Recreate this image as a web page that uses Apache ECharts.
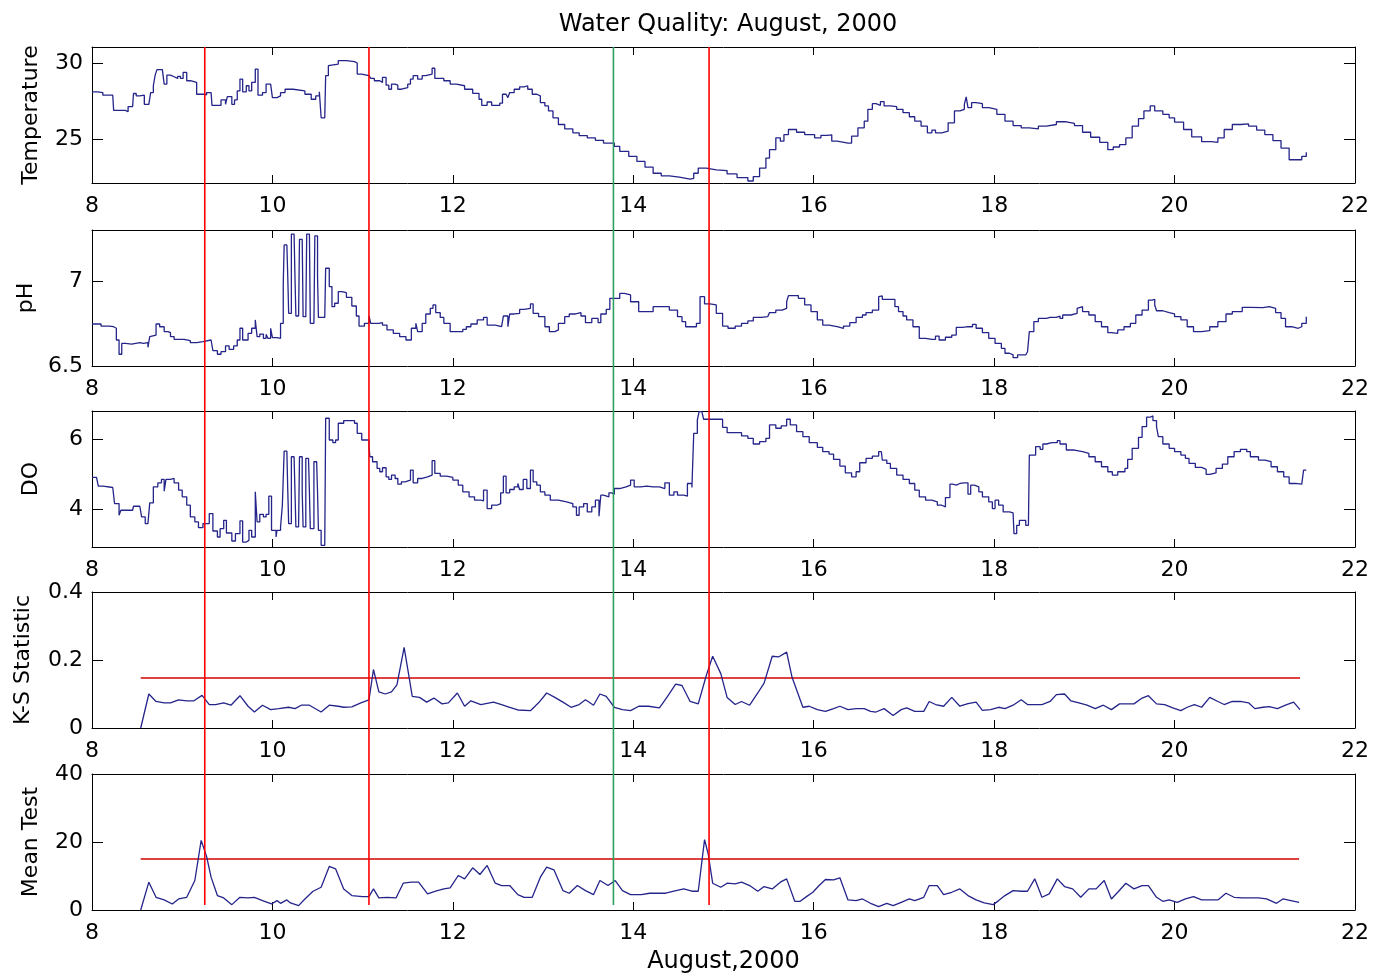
<!DOCTYPE html>
<html>
<head>
<meta charset="utf-8">
<title>Water Quality: August, 2000</title>
<script src="https://cdn.jsdelivr.net/npm/echarts/dist/echarts.min.js"></script>
<style>
  html, body { margin: 0; padding: 0; background: #fff; }
  #chart { width: 1376px; height: 978px; }
</style>
</head>
<body>
<div id="chart"></div>
<script>
// days are day-of-month, August 2000
const tempDays = [
  8.00, 8.06, 8.12, 8.23, 8.24, 8.37, 8.40, 8.45, 8.46, 8.49,
  8.53, 8.55, 8.58, 8.63, 8.65, 8.68, 8.70, 8.72, 8.78, 8.80,
  8.83, 8.87, 8.91, 8.95, 8.98, 9.01, 9.05, 9.09, 9.16, 9.24,
  9.27, 9.32, 9.33, 9.40, 9.43, 9.48, 9.50, 9.55, 9.58, 9.61,
  9.64, 9.67, 9.71, 9.74, 9.77, 9.81, 9.84, 9.89, 9.93, 9.98,
  10.00, 10.05, 10.09, 10.14, 10.23, 10.36, 10.43, 10.48, 10.52, 10.54,
  10.58, 10.59, 10.62, 10.64, 10.73, 10.82, 10.91, 10.94, 10.99, 11.07,
  11.09, 11.13, 11.19, 11.22, 11.26, 11.29, 11.32, 11.36, 11.39, 11.43,
  11.50, 11.53, 11.56, 11.61, 11.66, 11.70, 11.77, 11.80, 11.90, 11.97,
  12.04, 12.13, 12.22, 12.29, 12.32, 12.38, 12.43, 12.52, 12.55, 12.59,
  12.61, 12.63, 12.68, 12.74, 12.79, 12.83, 12.88, 12.93, 12.97, 13.02,
  13.06, 13.11, 13.17, 13.24, 13.33, 13.40, 13.49, 13.58, 13.67, 13.79,
  13.85, 13.95, 14.04, 14.13, 14.22, 14.31, 14.40, 14.51, 14.63, 14.67,
  14.72, 14.81, 14.92, 15.04, 15.15, 15.27, 15.33, 15.40, 15.47, 15.51,
  15.58, 15.63, 15.67, 15.72, 15.81, 15.90, 16.01, 16.08, 16.15, 16.20,
  16.26, 16.38, 16.42, 16.49, 16.56, 16.60, 16.65, 16.69, 16.74, 16.78,
  16.85, 16.92, 16.99, 17.06, 17.12, 17.19, 17.26, 17.31, 17.35, 17.42,
  17.49, 17.56, 17.62, 17.67, 17.69, 17.71, 17.75, 17.80, 17.87, 17.94,
  18.03, 18.12, 18.21, 18.30, 18.39, 18.49, 18.58, 18.69, 18.80, 18.89,
  18.98, 19.07, 19.17, 19.26, 19.32, 19.39, 19.46, 19.53, 19.60, 19.66,
  19.73, 19.78, 19.87, 19.94, 20.00, 20.10, 20.19, 20.30, 20.41, 20.48,
  20.55, 20.64, 20.73, 20.82, 20.91, 21.00, 21.09, 21.18, 21.27, 21.34,
  21.41, 21.46
];
const tempValues = [
  28.10, 28.05, 27.88, 27.88, 26.88, 26.79, 27.12, 27.17, 27.99, 27.83,
  27.72, 27.88, 27.28, 27.28, 28.05, 28.50, 29.20, 29.56, 29.56, 28.61,
  29.20, 29.09, 28.98, 29.12, 28.98, 29.38, 28.83, 28.72, 27.94, 27.90,
  28.05, 28.05, 27.21, 27.21, 27.57, 27.28, 27.79, 27.28, 27.57, 28.16,
  28.94, 28.10, 28.50, 28.16, 28.72, 29.60, 27.88, 28.05, 28.61, 28.61,
  27.72, 27.83, 28.05, 28.27, 28.16, 27.94, 27.61, 27.83, 28.10, 26.39,
  26.39, 29.16, 29.82, 29.93, 30.15, 30.09, 30.00, 29.27, 29.16, 29.16,
  28.98, 28.83, 28.72, 29.05, 28.54, 28.27, 28.61, 28.54, 28.27, 28.38,
  28.61, 28.94, 29.16, 28.94, 29.16, 29.27, 29.65, 28.98, 28.83, 28.61,
  28.50, 28.27, 28.00, 27.61, 27.21, 27.43, 27.21, 27.35, 27.94, 28.05,
  27.72, 28.05, 28.27, 28.43, 28.50, 28.27, 27.94, 27.83, 27.39, 27.17,
  26.84, 26.39, 25.95, 25.66, 25.40, 25.22, 25.07, 24.91, 24.73, 24.51,
  24.18, 23.85, 23.52, 23.14, 22.74, 22.57, 22.48, 22.35, 22.41, 22.74,
  23.08, 22.96, 22.92, 22.70, 22.46, 22.23, 22.52, 23.08, 23.74, 24.29,
  25.07, 24.85, 25.29, 25.62, 25.44, 25.29, 25.07, 25.24, 25.27, 24.85,
  24.73, 24.73, 25.18, 25.73, 26.17, 26.95, 27.32, 27.21, 27.46, 27.17,
  27.12, 26.95, 26.73, 26.46, 26.17, 25.84, 25.40, 25.58, 25.40, 25.51,
  26.06, 26.84, 26.95, 27.28, 27.77, 27.06, 27.39, 27.32, 27.06, 26.95,
  26.62, 26.17, 25.88, 25.73, 25.66, 25.84, 25.95, 26.13, 26.02, 25.88,
  25.44, 25.11, 24.78, 24.29, 24.47, 24.62, 25.07, 25.84, 26.33, 26.84,
  27.17, 26.84, 26.62, 26.39, 26.11, 25.62, 25.13, 24.82, 24.78, 25.07,
  25.62, 25.95, 25.99, 25.84, 25.58, 25.29, 24.89, 24.40, 23.63, 23.63,
  23.85, 24.12
];

const phDays = [
  8.00, 8.06, 8.10, 8.19, 8.24, 8.27, 8.30, 8.33, 8.37, 8.44,
  8.46, 8.53, 8.57, 8.62, 8.64, 8.66, 8.71, 8.75, 8.80, 8.84,
  8.87, 8.91, 8.98, 9.02, 9.09, 9.16, 9.23, 9.25, 9.32, 9.34,
  9.39, 9.43, 9.48, 9.52, 9.57, 9.61, 9.64, 9.67, 9.73, 9.77,
  9.81, 9.83, 9.86, 9.90, 9.93, 9.95, 9.98, 10.00, 10.05, 10.09,
  10.12, 10.13, 10.16, 10.17, 10.18, 10.20, 10.21, 10.24, 10.25, 10.26,
  10.29, 10.30, 10.33, 10.34, 10.37, 10.38, 10.41, 10.42, 10.46, 10.47,
  10.49, 10.50, 10.51, 10.58, 10.59, 10.63, 10.66, 10.69, 10.73, 10.77,
  10.82, 10.88, 10.93, 10.96, 11.02, 11.07, 11.09, 11.18, 11.22, 11.27,
  11.34, 11.41, 11.48, 11.54, 11.59, 11.61, 11.66, 11.70, 11.75, 11.78,
  11.81, 11.86, 11.90, 11.97, 12.06, 12.11, 12.15, 12.20, 12.27, 12.34,
  12.38, 12.47, 12.54, 12.56, 12.61, 12.63, 12.68, 12.74, 12.79, 12.86,
  12.89, 12.95, 13.02, 13.07, 13.13, 13.17, 13.24, 13.29, 13.36, 13.42,
  13.47, 13.54, 13.61, 13.64, 13.70, 13.74, 13.81, 13.85, 13.90, 13.97,
  14.06, 14.13, 14.22, 14.31, 14.40, 14.49, 14.54, 14.58, 14.65, 14.70,
  14.74, 14.79, 14.85, 14.92, 14.99, 15.05, 15.13, 15.20, 15.27, 15.33,
  15.42, 15.49, 15.51, 15.58, 15.65, 15.70, 15.72, 15.79, 15.83, 15.90,
  15.97, 16.04, 16.10, 16.17, 16.26, 16.33, 16.40, 16.47, 16.54, 16.58,
  16.65, 16.72, 16.74, 16.76, 16.81, 16.85, 16.90, 16.94, 16.99, 17.03,
  17.10, 17.17, 17.24, 17.31, 17.35, 17.39, 17.46, 17.53, 17.58, 17.65,
  17.71, 17.76, 17.80, 17.87, 17.94, 18.01, 18.08, 18.12, 18.17, 18.21,
  18.26, 18.30, 18.35, 18.37, 18.39, 18.44, 18.49, 18.53, 18.58, 18.62,
  18.69, 18.73, 18.76, 18.85, 18.92, 18.94, 18.98, 19.05, 19.12, 19.19,
  19.26, 19.30, 19.37, 19.44, 19.51, 19.57, 19.64, 19.71, 19.75, 19.78,
  19.80, 19.87, 19.94, 20.00, 20.07, 20.14, 20.21, 20.30, 20.39, 20.48,
  20.57, 20.64, 20.75, 20.84, 20.98, 21.05, 21.12, 21.18, 21.23, 21.30,
  21.37, 21.41, 21.46
];
const phValues = [
  6.747, 6.747, 6.735, 6.731, 6.722, 6.653, 6.569, 6.633, 6.629, 6.624,
  6.637, 6.633, 6.637, 6.610, 6.673, 6.682, 6.747, 6.731, 6.702, 6.696,
  6.673, 6.657, 6.657, 6.649, 6.637, 6.643, 6.643, 6.653, 6.643, 6.590,
  6.569, 6.584, 6.618, 6.598, 6.618, 6.653, 6.722, 6.653, 6.692, 6.722,
  6.771, 6.673, 6.688, 6.663, 6.686, 6.663, 6.722, 6.667, 6.663, 6.751,
  6.986, 7.212, 7.212, 7.025, 6.810, 6.810, 7.276, 7.276, 7.025, 6.794,
  6.794, 7.245, 7.245, 6.790, 6.790, 7.276, 7.276, 6.751, 6.751, 7.265,
  7.265, 7.025, 6.786, 6.786, 7.075, 6.967, 6.849, 6.869, 6.937, 6.931,
  6.904, 6.853, 6.794, 6.735, 6.751, 6.794, 6.751, 6.755, 6.741, 6.712,
  6.692, 6.673, 6.653, 6.722, 6.751, 6.702, 6.751, 6.806, 6.839, 6.859,
  6.814, 6.786, 6.751, 6.702, 6.702, 6.716, 6.731, 6.747, 6.771, 6.786,
  6.741, 6.731, 6.731, 6.794, 6.731, 6.806, 6.810, 6.833, 6.839, 6.865,
  6.810, 6.790, 6.731, 6.702, 6.712, 6.751, 6.790, 6.806, 6.814, 6.794,
  6.755, 6.780, 6.755, 6.806, 6.833, 6.898, 6.898, 6.927, 6.918, 6.878,
  6.820, 6.820, 6.849, 6.849, 6.829, 6.790, 6.761, 6.731, 6.731, 6.751,
  6.908, 6.865, 6.859, 6.810, 6.735, 6.722, 6.735, 6.751, 6.765, 6.786,
  6.790, 6.794, 6.814, 6.829, 6.839, 6.878, 6.914, 6.914, 6.898, 6.859,
  6.820, 6.771, 6.741, 6.731, 6.722, 6.735, 6.755, 6.786, 6.800, 6.814,
  6.829, 6.908, 6.912, 6.892, 6.892, 6.892, 6.849, 6.820, 6.794, 6.771,
  6.731, 6.663, 6.657, 6.657, 6.676, 6.653, 6.669, 6.682, 6.727, 6.731,
  6.731, 6.745, 6.722, 6.696, 6.663, 6.633, 6.604, 6.575, 6.565, 6.549,
  6.565, 6.565, 6.575, 6.584, 6.702, 6.761, 6.780, 6.780, 6.786, 6.786,
  6.794, 6.780, 6.800, 6.810, 6.839, 6.849, 6.820, 6.800, 6.761, 6.731,
  6.696, 6.692, 6.712, 6.731, 6.751, 6.800, 6.829, 6.888, 6.892, 6.859,
  6.825, 6.814, 6.806, 6.790, 6.771, 6.731, 6.702, 6.708, 6.731, 6.761,
  6.806, 6.820, 6.845, 6.843, 6.849, 6.839, 6.814, 6.780, 6.731, 6.722,
  6.731, 6.751, 6.790
];

const doDays = [
  8.00, 8.05, 8.07, 8.12, 8.23, 8.25, 8.30, 8.32, 8.39, 8.45,
  8.46, 8.53, 8.55, 8.59, 8.62, 8.64, 8.68, 8.73, 8.77, 8.80,
  8.82, 8.87, 8.91, 8.96, 9.00, 9.05, 9.09, 9.14, 9.18, 9.23,
  9.27, 9.30, 9.34, 9.39, 9.42, 9.46, 9.49, 9.55, 9.59, 9.64,
  9.67, 9.71, 9.74, 9.77, 9.81, 9.83, 9.86, 9.90, 9.93, 9.96,
  9.99, 10.04, 10.05, 10.09, 10.11, 10.13, 10.16, 10.17, 10.18, 10.20,
  10.21, 10.24, 10.25, 10.26, 10.29, 10.30, 10.32, 10.33, 10.34, 10.36,
  10.37, 10.40, 10.41, 10.42, 10.44, 10.46, 10.49, 10.50, 10.51, 10.53,
  10.54, 10.58, 10.59, 10.61, 10.63, 10.67, 10.70, 10.73, 10.79, 10.86,
  10.91, 10.94, 10.99, 11.07, 11.08, 11.11, 11.16, 11.19, 11.22, 11.26,
  11.29, 11.32, 11.36, 11.39, 11.43, 11.47, 11.53, 11.56, 11.61, 11.66,
  11.72, 11.77, 11.80, 11.86, 11.93, 12.00, 12.06, 12.11, 12.18, 12.24,
  12.31, 12.34, 12.38, 12.43, 12.49, 12.53, 12.56, 12.59, 12.63, 12.68,
  12.72, 12.74, 12.78, 12.82, 12.86, 12.89, 12.93, 12.97, 13.02, 13.08,
  13.17, 13.26, 13.33, 13.37, 13.40, 13.45, 13.49, 13.54, 13.58, 13.62,
  13.64, 13.67, 13.73, 13.76, 13.79, 13.85, 13.92, 13.97, 14.01, 14.08,
  14.15, 14.22, 14.29, 14.35, 14.40, 14.45, 14.49, 14.56, 14.60, 14.65,
  14.67, 14.71, 14.73, 14.76, 14.78, 14.90, 14.99, 15.04, 15.13, 15.20,
  15.27, 15.33, 15.40, 15.47, 15.51, 15.58, 15.64, 15.70, 15.74, 15.81,
  15.88, 15.95, 16.04, 16.10, 16.17, 16.22, 16.29, 16.35, 16.42, 16.47,
  16.51, 16.58, 16.65, 16.72, 16.75, 16.76, 16.81, 16.85, 16.92, 16.99,
  17.06, 17.12, 17.17, 17.24, 17.31, 17.37, 17.42, 17.46, 17.51, 17.54,
  17.58, 17.62, 17.67, 17.71, 17.74, 17.78, 17.83, 17.87, 17.94, 17.98,
  18.01, 18.05, 18.10, 18.17, 18.21, 18.22, 18.25, 18.28, 18.31, 18.35,
  18.38, 18.39, 18.43, 18.46, 18.51, 18.54, 18.58, 18.64, 18.70, 18.73,
  18.80, 18.89, 18.98, 19.05, 19.12, 19.19, 19.26, 19.31, 19.37, 19.45,
  19.48, 19.53, 19.60, 19.64, 19.69, 19.73, 19.76, 19.80, 19.82, 19.87,
  19.94, 20.00, 20.07, 20.12, 20.16, 20.23, 20.30, 20.35, 20.39, 20.46,
  20.53, 20.59, 20.66, 20.73, 20.80, 20.84, 20.93, 21.00, 21.07, 21.14,
  21.21, 21.27, 21.34, 21.41, 21.43, 21.46
];
const doValues = [
  4.909, 4.909, 4.660, 4.622, 4.622, 4.163, 3.828, 3.971, 3.971, 3.952,
  4.086, 4.086, 3.780, 3.589, 3.636, 4.182, 4.641, 4.756, 4.852, 4.517,
  4.852, 4.880, 4.756, 4.545, 4.354, 4.115, 3.780, 3.636, 3.474, 3.589,
  3.589, 3.876, 3.378, 3.206, 3.445, 3.684, 3.321, 3.091, 3.301, 3.665,
  3.062, 3.110, 3.397, 3.206, 4.498, 3.636, 3.856, 3.780, 3.856, 4.373,
  3.397, 3.206, 3.397, 3.493, 4.115, 5.665, 5.665, 4.545, 3.589, 3.589,
  5.502, 5.502, 4.498, 3.493, 3.493, 5.502, 5.502, 4.498, 3.493, 3.493,
  5.455, 5.455, 4.498, 3.445, 3.445, 5.359, 5.359, 4.498, 3.397, 3.397,
  2.967, 2.967, 6.603, 6.603, 5.981, 5.904, 5.981, 6.459, 6.536, 6.536,
  6.459, 6.172, 5.981, 5.837, 5.502, 5.359, 5.167, 5.072, 5.187, 4.928,
  4.852, 4.976, 4.880, 4.718, 4.785, 4.833, 5.120, 4.756, 4.880, 4.928,
  4.976, 5.388, 5.024, 4.947, 4.909, 4.833, 4.689, 4.498, 4.354, 4.258,
  4.239, 4.545, 4.019, 4.115, 4.163, 4.469, 4.947, 4.469, 4.565, 4.641,
  4.737, 4.565, 4.852, 4.593, 5.120, 4.785, 4.689, 4.498, 4.402, 4.258,
  4.211, 4.163, 4.067, 3.828, 4.067, 4.163, 3.923, 4.067, 4.258, 3.799,
  4.402, 4.354, 4.469, 4.431, 4.593, 4.641, 4.689, 4.833, 4.641, 4.660,
  4.641, 4.641, 4.593, 4.756, 4.402, 4.498, 4.402, 4.373, 4.737, 4.622,
  6.172, 6.555, 6.794, 6.794, 6.574, 6.574, 6.344, 6.191, 6.191, 6.096,
  6.029, 5.866, 5.933, 6.029, 6.411, 6.316, 6.383, 6.574, 6.411, 6.220,
  6.077, 5.904, 5.770, 5.646, 5.579, 5.426, 5.234, 5.043, 4.928, 5.072,
  5.330, 5.455, 5.522, 5.646, 5.694, 5.407, 5.311, 5.167, 4.976, 4.852,
  4.737, 4.545, 4.354, 4.258, 4.211, 4.115, 4.067, 4.335, 4.718, 4.689,
  4.737, 4.756, 4.756, 4.431, 4.689, 4.641, 4.498, 4.354, 4.211, 4.019,
  4.258, 4.115, 3.923, 3.895, 3.876, 3.301, 3.541, 3.684, 3.684, 3.541,
  3.541, 5.550, 5.550, 5.789, 5.713, 5.866, 5.904, 5.904, 5.962, 5.866,
  5.694, 5.646, 5.598, 5.502, 5.359, 5.215, 5.072, 4.976, 5.072, 5.167,
  5.426, 5.742, 6.057, 6.364, 6.632, 6.670, 6.536, 6.364, 6.077, 5.866,
  5.742, 5.646, 5.550, 5.455, 5.311, 5.196, 5.139, 4.995, 5.043, 5.167,
  5.292, 5.502, 5.646, 5.713, 5.646, 5.502, 5.407, 5.359, 5.215, 5.072,
  4.928, 4.737, 4.718, 4.756, 5.120, 5.120
];

const ksDays = [
  8.54, 8.63, 8.71, 8.80, 8.87, 8.96, 9.05, 9.13, 9.22, 9.30,
  9.37, 9.46, 9.54, 9.64, 9.73, 9.80, 9.89, 9.98, 10.07, 10.18,
  10.25, 10.32, 10.41, 10.54, 10.63, 10.73, 10.79, 10.88, 10.98, 11.04,
  11.07, 11.12, 11.18, 11.25, 11.32, 11.38, 11.46, 11.55, 11.63, 11.71,
  11.79, 11.88, 11.95, 12.05, 12.13, 12.20, 12.31, 12.45, 12.54, 12.63,
  12.72, 12.86, 12.95, 13.04, 13.13, 13.22, 13.31, 13.40, 13.47, 13.56,
  13.63, 13.70, 13.79, 13.88, 13.97, 14.06, 14.17, 14.29, 14.38, 14.47,
  14.54, 14.63, 14.72, 14.81, 14.88, 14.97, 15.04, 15.13, 15.20, 15.29,
  15.38, 15.45, 15.54, 15.61, 15.70, 15.76, 15.88, 15.95, 16.04, 16.13,
  16.22, 16.29, 16.38, 16.47, 16.56, 16.63, 16.69, 16.78, 16.88, 16.97,
  17.03, 17.12, 17.22, 17.28, 17.35, 17.44, 17.53, 17.62, 17.71, 17.80,
  17.87, 17.96, 18.05, 18.12, 18.21, 18.30, 18.37, 18.46, 18.53, 18.62,
  18.69, 18.78, 18.85, 18.94, 19.03, 19.12, 19.21, 19.30, 19.39, 19.48,
  19.55, 19.64, 19.71, 19.80, 19.89, 19.98, 20.07, 20.14, 20.22, 20.30,
  20.39, 20.48, 20.55, 20.64, 20.73, 20.82, 20.89, 20.98, 21.05, 21.14,
  21.23, 21.32, 21.39
];
const ksValues = [
  0.000, 0.100, 0.078, 0.074, 0.074, 0.083, 0.080, 0.080, 0.096, 0.069,
  0.069, 0.074, 0.067, 0.095, 0.064, 0.047, 0.067, 0.054, 0.057, 0.061,
  0.057, 0.067, 0.067, 0.047, 0.067, 0.064, 0.061, 0.062, 0.074, 0.080,
  0.083, 0.172, 0.106, 0.100, 0.106, 0.127, 0.237, 0.093, 0.090, 0.076,
  0.088, 0.071, 0.074, 0.103, 0.064, 0.080, 0.069, 0.076, 0.069, 0.061,
  0.053, 0.051, 0.074, 0.103, 0.090, 0.076, 0.061, 0.069, 0.083, 0.067,
  0.100, 0.093, 0.061, 0.054, 0.051, 0.064, 0.064, 0.059, 0.093, 0.129,
  0.125, 0.078, 0.071, 0.155, 0.211, 0.160, 0.090, 0.069, 0.078, 0.067,
  0.103, 0.132, 0.211, 0.209, 0.223, 0.149, 0.061, 0.064, 0.054, 0.049,
  0.057, 0.064, 0.054, 0.057, 0.057, 0.049, 0.047, 0.057, 0.037, 0.054,
  0.059, 0.049, 0.049, 0.078, 0.069, 0.064, 0.090, 0.064, 0.072, 0.076,
  0.052, 0.054, 0.061, 0.057, 0.067, 0.083, 0.069, 0.069, 0.069, 0.078,
  0.098, 0.100, 0.080, 0.074, 0.067, 0.057, 0.067, 0.054, 0.071, 0.071,
  0.071, 0.088, 0.095, 0.071, 0.069, 0.059, 0.051, 0.061, 0.069, 0.061,
  0.090, 0.078, 0.069, 0.078, 0.078, 0.074, 0.057, 0.061, 0.063, 0.057,
  0.067, 0.076, 0.054
];
const ksThreshold = 0.147;

const meanDays = [
  8.54, 8.63, 8.71, 8.80, 8.89, 8.96, 9.05, 9.14, 9.21, 9.27,
  9.32, 9.39, 9.46, 9.55, 9.64, 9.73, 9.80, 9.89, 9.99, 10.05,
  10.09, 10.16, 10.20, 10.29, 10.36, 10.45, 10.54, 10.63, 10.70, 10.79,
  10.88, 11.00, 11.07, 11.12, 11.18, 11.27, 11.37, 11.45, 11.54, 11.62,
  11.72, 11.81, 11.90, 11.97, 12.06, 12.13, 12.22, 12.30, 12.38, 12.47,
  12.54, 12.63, 12.72, 12.79, 12.88, 12.97, 13.04, 13.12, 13.22, 13.29,
  13.38, 13.47, 13.56, 13.63, 13.72, 13.80, 13.88, 13.97, 14.09, 14.18,
  14.27, 14.36, 14.45, 14.56, 14.65, 14.72, 14.79, 14.83, 14.88, 14.97,
  15.04, 15.13, 15.20, 15.29, 15.38, 15.45, 15.54, 15.63, 15.70, 15.79,
  15.85, 15.92, 15.99, 16.06, 16.13, 16.22, 16.29, 16.38, 16.47, 16.54,
  16.63, 16.72, 16.81, 16.88, 16.97, 17.06, 17.12, 17.22, 17.28, 17.37,
  17.44, 17.53, 17.62, 17.71, 17.80, 17.89, 17.99, 18.05, 18.12, 18.21,
  18.30, 18.37, 18.45, 18.53, 18.61, 18.70, 18.78, 18.87, 18.96, 19.05,
  19.13, 19.22, 19.30, 19.37, 19.46, 19.55, 19.64, 19.71, 19.80, 19.87,
  19.94, 20.03, 20.12, 20.21, 20.30, 20.39, 20.48, 20.57, 20.66, 20.75,
  20.84, 20.93, 21.02, 21.13, 21.20, 21.29, 21.38
];
const meanValues = [
  0.00, 8.18, 3.74, 2.96, 1.77, 3.25, 3.74, 8.67, 20.49, 15.76,
  9.66, 4.24, 3.55, 1.58, 3.74, 3.55, 3.74, 2.76, 1.77, 2.76,
  1.97, 2.96, 2.07, 1.28, 3.25, 5.52, 6.70, 12.81, 12.12, 6.21,
  4.24, 3.94, 3.94, 6.21, 3.55, 3.74, 3.55, 7.88, 8.18, 8.18,
  4.73, 5.52, 6.21, 6.50, 10.15, 9.16, 12.41, 10.44, 13.10, 7.88,
  7.19, 7.19, 4.53, 3.74, 3.74, 9.66, 12.61, 11.82, 5.71, 4.93,
  7.19, 5.71, 4.53, 8.67, 7.19, 8.67, 5.71, 4.53, 4.53, 4.93,
  4.93, 4.93, 5.52, 6.21, 5.52, 5.52, 20.69, 16.55, 7.88, 6.70,
  7.88, 7.68, 8.18, 7.19, 5.52, 6.90, 6.21, 8.18, 9.16, 2.56,
  2.56, 3.94, 5.22, 7.19, 8.97, 8.87, 9.46, 2.96, 2.76, 3.25,
  1.97, 0.99, 1.97, 1.28, 2.27, 3.25, 2.76, 3.74, 7.19, 7.19,
  4.53, 5.22, 6.21, 4.24, 2.96, 2.07, 1.58, 2.76, 4.24, 5.71,
  5.52, 5.52, 9.16, 3.74, 4.73, 9.16, 6.90, 6.21, 3.74, 6.21,
  6.21, 8.67, 3.25, 5.22, 7.88, 6.21, 7.19, 7.19, 3.74, 2.56,
  2.96, 2.27, 3.25, 3.94, 2.96, 2.96, 2.96, 4.93, 3.74, 3.55,
  3.55, 3.55, 3.25, 1.97, 3.25, 2.76, 2.27
];
const meanThreshold = 15;

// detected change points (red) and the reference day (green)
const changeDays = [9.25, 11.07, 14.84];
const refDay = 13.78;

const tempTicks = [25, 30];
const phTicks = [6.5, 7];
const doTicks = [4, 6];
const ksTicks = [0, 0.2, 0.4];
const meanTicks = [0, 20, 40];

const lineColor = '#24248a';
const font = 'DejaVu Sans, Liberation Sans, Arial, sans-serif';

function zip(xs, ys) {
  return xs.map((x, i) => [x, ys[i]]);
}

// the measured series are stair plots, the test statistics plain lines
const panels = [
  { name: 'Temperature', days: tempDays, values: tempValues, min: 22.1, max: 31.05, ticks: tempTicks, nameGap: 50, step: 'end' },
  { name: 'pH', days: phDays, values: phValues, min: 6.5, max: 7.3, ticks: phTicks, nameGap: 52, step: 'end' },
  { name: 'DO', days: doDays, values: doValues, min: 2.92, max: 6.81, ticks: doTicks, nameGap: 50, step: 'end' },
  { name: 'K-S Statistic', days: ksDays, values: ksValues, min: 0, max: 0.4, ticks: ksTicks, nameGap: 58, threshold: ksThreshold },
  { name: 'Mean Test', days: meanDays, values: meanValues, min: 0, max: 40, ticks: meanTicks, nameGap: 50, threshold: meanThreshold }
];
const tops = [47, 230, 411, 592, 774];
const plotH = 136;

const chart = echarts.init(document.getElementById('chart'));

const grid = [];
const xAxis = [];
const yAxis = [];
const series = [];

panels.forEach((p, i) => {
  grid.push({ left: 92, right: 21, top: tops[i], height: plotH });
  const xBase = {
    gridIndex: i, type: 'value', min: 8, max: 22, interval: 2,
    axisLine: { show: true, onZero: false, lineStyle: { color: '#000', width: 1 } },
    axisTick: { show: true, inside: true, length: 8, lineStyle: { color: '#000' } },
    splitLine: { show: false }
  };
  xAxis.push(Object.assign({}, xBase, {
    position: 'bottom',
    axisLabel: { fontSize: 22, color: '#000', fontFamily: font, margin: 12 },
    name: i === 4 ? 'August,2000' : '',
    nameLocation: 'middle',
    nameGap: 40,
    nameTextStyle: { fontSize: 24, color: '#000', fontFamily: font }
  }));
  xAxis.push(Object.assign({}, xBase, { position: 'top', axisLabel: { show: false } }));

  const yBase = {
    gridIndex: i, type: 'value', min: p.min, max: p.max,
    axisLine: { show: true, onZero: false, lineStyle: { color: '#000', width: 1 } },
    axisTick: { show: true, inside: true, length: 11, customValues: p.ticks, lineStyle: { color: '#000' } },
    splitLine: { show: false }
  };
  yAxis.push(Object.assign({}, yBase, {
    position: 'left',
    name: p.name,
    nameLocation: 'middle',
    nameGap: p.nameGap,
    nameTextStyle: { fontSize: 22, color: '#000', fontFamily: font },
    axisLabel: { customValues: p.ticks, fontSize: 22, color: '#000', fontFamily: font, margin: 9 }
  }));
  yAxis.push(Object.assign({}, yBase, { position: 'right', axisLabel: { show: false } }));

  series.push({
    type: 'line',
    xAxisIndex: 2 * i,
    yAxisIndex: 2 * i,
    data: zip(p.days, p.values),
    step: p.step || false,
    symbol: 'none',
    lineStyle: { color: lineColor, width: 1.3 },
    z: 3
  });
  if (p.threshold !== undefined) {
    series.push({
      type: 'line',
      xAxisIndex: 2 * i,
      yAxisIndex: 2 * i,
      data: [[p.days[0], p.threshold], [p.days[p.days.length - 1], p.threshold]],
      symbol: 'none',
      lineStyle: { color: '#d40000', width: 1.3 },
      z: 2
    });
  }
});

// overlay grid spanning all panels for the vertical markers
grid.push({ left: 92, right: 21, top: 47, height: 858 });
xAxis.push({ gridIndex: 5, type: 'value', min: 8, max: 22, show: false });
yAxis.push({ gridIndex: 5, type: 'value', min: 0, max: 1, show: false });
changeDays.forEach(d => {
  series.push({
    type: 'line', xAxisIndex: 10, yAxisIndex: 10,
    data: [[d, 0], [d, 1]], symbol: 'none',
    lineStyle: { color: '#ff0000', width: 1.6 }, z: 4
  });
});
series.push({
  type: 'line', xAxisIndex: 10, yAxisIndex: 10,
  data: [[refDay, 0], [refDay, 1]], symbol: 'none',
  lineStyle: { color: '#2ca25f', width: 1.6 }, z: 4
});

chart.setOption({
  animation: false,
  backgroundColor: '#fff',
  title: {
    text: 'Water Quality: August, 2000',
    left: 723,
    top: 8,
    textAlign: 'center',
    textStyle: { fontSize: 24, fontWeight: 'normal', color: '#000', fontFamily: font }
  },
  grid,
  xAxis,
  yAxis,
  series
});
</script>
</body>
</html>
